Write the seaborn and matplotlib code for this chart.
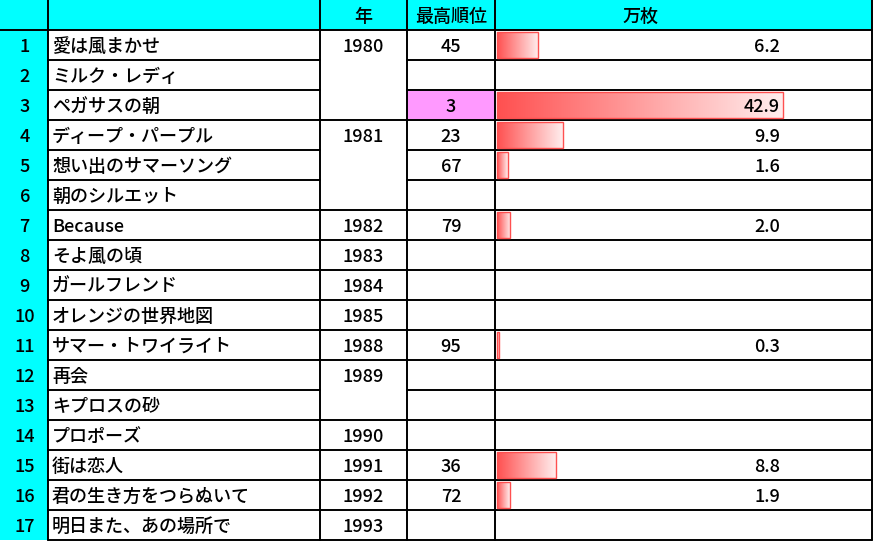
import numpy as np
import pandas as pd
import matplotlib
matplotlib.use('Agg')
import matplotlib.pyplot as plt
from matplotlib.colors import LinearSegmentedColormap
import seaborn as sns

# table data
titles = ['愛は風まかせ', 'ミルク・レディ', 'ペガサスの朝', 'ディープ・パープル',
          '想い出のサマーソング', '朝のシルエット', 'Because', 'そよ風の頃',
          'ガールフレンド', 'オレンジの世界地図', 'サマー・トワイライト', '再会',
          'キプロスの砂', 'プロポーズ', '街は恋人', '君の生き方をつらぬいて',
          '明日また、あの場所で']
years = [1980, None, None, 1981, None, None, 1982, 1983, 1984, 1985, 1988,
         1989, None, 1990, 1991, 1992, 1993]
ranks = [45, None, 3, 23, 67, None, 79, None, None, None, 95, None, None,
         None, 36, 72, None]
sales = [6.2, None, 42.9, 9.9, 1.6, None, 2.0, None, None, None, 0.3, None,
         None, None, 8.8, 1.9, None]
headers = ['', '', '年', '最高順位', '万枚']

sns.set_theme(style='white')
plt.rcParams['font.family'] = ['Noto Sans CJK JP', 'DejaVu Sans']
plt.rcParams['text.color'] = 'black'

W, H = 873, 541
col_x = [0, 47.5, 319.5, 407, 495, 872]
row_h = 30
n = len(titles)
fs = 13
fw = 'medium'
dy = 1.5
lw = 1.4

fig = plt.figure(figsize=(W / 100, H / 100), dpi=100)
fig.patch.set_facecolor('white')
ax = fig.add_axes([0, 0, 1, 1])
ax.set_xlim(0, W)
ax.set_ylim(H, 0)
ax.axis('off')

# backgrounds
cyan = '#00FFFF'
ax.add_patch(plt.Rectangle((0, 0), col_x[-1], row_h, color=cyan, lw=0, zorder=0))
ax.add_patch(plt.Rectangle((0, 0), col_x[1], row_h * (n + 1), color=cyan, lw=0, zorder=0))
best = min(r for r in ranks if r is not None)
for i, r in enumerate(ranks):
    if r == best:
        ax.add_patch(plt.Rectangle((col_x[3], row_h * (i + 1)), col_x[4] - col_x[3], row_h,
                                   color='#FF99FF', lw=0, zorder=0))

# grid lines
ax.plot([0, col_x[-1]], [row_h, row_h], color='black', lw=lw)
for i in range(1, n + 1):
    y = row_h * (i + 1)
    ax.plot([col_x[1], col_x[2]], [y, y], color='black', lw=lw)
    ax.plot([col_x[3], col_x[5]], [y, y], color='black', lw=lw)
    if i == n or years[i] is not None:
        ax.plot([col_x[2], col_x[3]], [y, y], color='black', lw=lw)
for x in col_x[1:]:
    ax.plot([x, x], [0, row_h * (n + 1)], color='black', lw=lw)


def cell_text(x, y, s, ha='center'):
    # figure-level text so it sits above the bar axes
    fig.text(x, y + dy, s, ha=ha, va='center', fontsize=fs, fontweight=fw,
             color='black', transform=ax.transData, zorder=10)


# header text
cell_text((col_x[2] + col_x[3]) / 2, row_h / 2, headers[2])
cell_text((col_x[3] + col_x[4]) / 2, row_h / 2, headers[3])
cell_text(640, row_h / 2, headers[4])

# row text
for i in range(n):
    yc = row_h * (i + 1.5)
    cell_text(col_x[1] / 2 + 1, yc, str(i + 1))
    cell_text(52, yc, titles[i], ha='left')
    if years[i] is not None:
        cell_text((col_x[2] + col_x[3]) / 2, yc, str(years[i]))
    if ranks[i] is not None:
        cell_text((col_x[3] + col_x[4]) / 2, yc, str(ranks[i]))
    if sales[i] is not None:
        cell_text(780, yc, f'{sales[i]:.1f}', ha='right')

# data bars
df = pd.DataFrame({'no': [str(i + 1) for i in range(n)], 'sales': sales}).dropna()
order = [str(i + 1) for i in range(n)]
bx = fig.add_axes([col_x[4] / W, (H - row_h * (n + 1)) / H,
                   (col_x[5] - col_x[4]) / W, row_h * n / H])
bx.patch.set_alpha(0)
sns.barplot(data=df, x='sales', y='no', order=order, orient='h', width=0.87,
            ax=bx, color='#FF5A5A')
px_per_unit = 286 / 42.9
cmap = LinearSegmentedColormap.from_list('bar', ['#FF5050', '#FFEEEE'])
grad = np.linspace(0, 1, 256).reshape(1, -1)
for p in list(bx.patches):
    x0, y0 = p.get_x(), p.get_y()
    w, h = p.get_width(), p.get_height()
    im = bx.imshow(grad, cmap=cmap, extent=[x0, x0 + w, y0 + h, y0],
                   aspect='auto', zorder=1, interpolation='bilinear')
    im.set_clip_path(p)
    p.set_facecolor('none')
    p.set_edgecolor('#FF5050')
    p.set_linewidth(1.0)
    p.set_zorder(2)
bx.set_xlim(-2 / px_per_unit, (col_x[5] - col_x[4] - 2) / px_per_unit)
bx.set_ylim(n - 0.5, -0.5)
bx.axis('off')

fig.savefig('out.png', dpi=100)
